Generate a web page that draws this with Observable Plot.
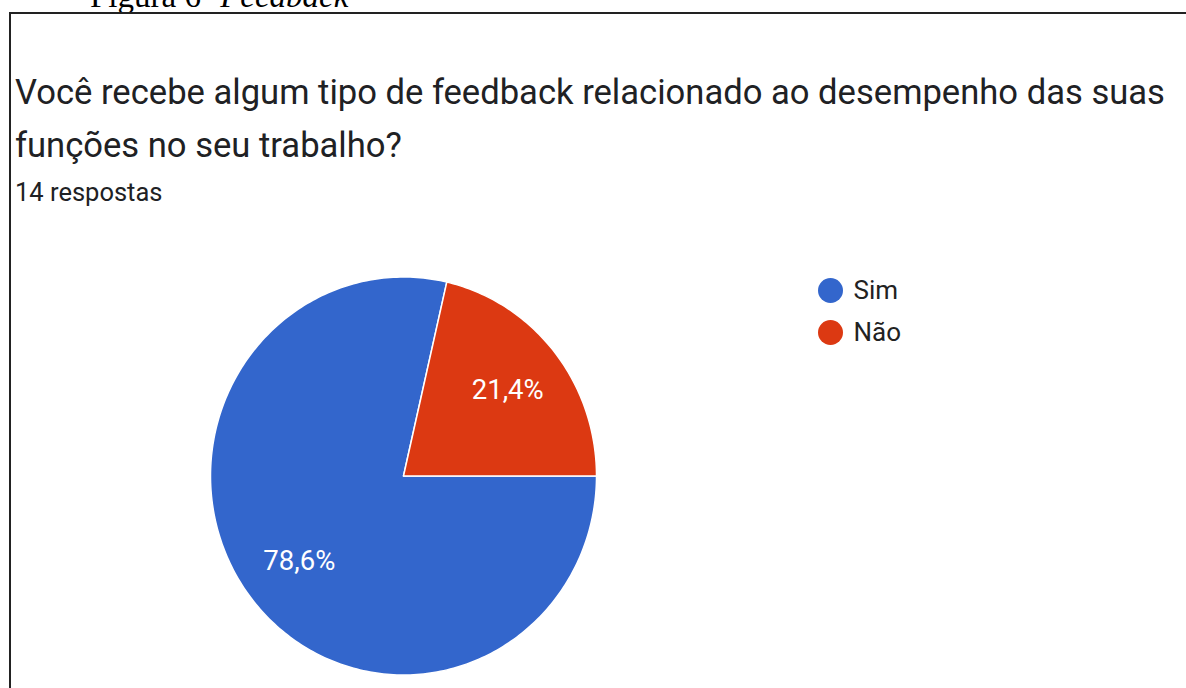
<!DOCTYPE html>
<html>
<head>
<meta charset="utf-8">
<script src="https://cdn.jsdelivr.net/npm/d3@7"></script>
<script src="https://cdn.jsdelivr.net/npm/@observablehq/plot@0.6"></script>
<style>
  html, body { margin: 0; padding: 0; background: #fff; width: 1186px; height: 688px; overflow: hidden; }
  #wrap { position: relative; width: 1186px; height: 688px; }
  #fig { position: absolute; left: 90px; top: -19px; font-family: "Liberation Serif", "Times New Roman", serif; font-size: 33px; color: #000; white-space: nowrap; line-height: 30px; }
  #box { position: absolute; left: 9px; top: 12px; width: 1300px; height: 800px; border-top: 2px solid #222; border-left: 2px solid #222; }
  #title { position: absolute; left: 15px; top: 66px; font-family: Roboto, sans-serif; font-size: 34.6px; line-height: 53px; color: #202124; white-space: nowrap; }
  #sub { position: absolute; left: 15px; top: 177px; font-family: Roboto, sans-serif; font-size: 25.5px; line-height: 30px; color: #202124; white-space: nowrap; }
  #chart { position: absolute; left: 0; top: 215px; }
</style>
</head>
<body>
<div id="wrap">
  <div id="fig">Figura 6- <i>Feedback</i></div>
  <div id="box"></div>
  <div id="title">Você recebe algum tipo de feedback relacionado ao desempenho das suas<br>funções no seu trabalho?</div>
  <div id="sub">14 respostas</div>
  <div id="chart"></div>
</div>
<script>
const categories = ["Sim", "Não"];
const values = [78.6, 21.4];
const labels = ["78,6%", "21,4%"];
const colors = ["#3366cc", "#dc3912"];

// layout (pixels)
const W = 1186, H = 473;
const cx = 403, cy = 260.5, RX = 193, RY = 199;
const startDeg = 90; // slices start at 3 o'clock, clockwise

const total = d3.sum(values);
const slices = [];
const labelPts = [];
let a0 = startDeg;
values.forEach((v, i) => {
  const span = v / total * 360;
  const a1 = a0 + span;
  slices.push({cat: categories[i], x: 0, y: 0});
  const n = Math.max(2, Math.ceil(span));
  for (let k = 0; k <= n; k++) {
    const t = (a0 + (a1 - a0) * k / n) * Math.PI / 180;
    slices.push({cat: categories[i], x: Math.sin(t), y: Math.cos(t)});
  }
  slices.push({cat: categories[i], x: 0, y: 0});
  const m = (a0 + a1) / 2 * Math.PI / 180;
  labelPts.push({label: labels[i], x: 0.69 * Math.sin(m), y: 0.69 * Math.cos(m)});
  a0 = a1;
});

const legendX = (830 - cx) / RX, legendTextX = (853 - cx) / RX;
const legend = categories.map((c, i) => ({cat: c, y: (cy - (75 + 42 * i)) / RY}));

const chart = Plot.plot({
  width: W, height: H,
  margin: 0,
  x: {domain: [-cx / RX, (W - cx) / RX], range: [0, W], axis: null},
  y: {domain: [-(H - cy) / RY, cy / RY], range: [H, 0], axis: null},
  color: {domain: categories, range: colors},
  style: {background: "transparent", overflow: "visible"},
  marks: [
    Plot.line(slices, {x: "x", y: "y", z: "cat", fill: "cat", stroke: "white", strokeWidth: 1.5, strokeLinejoin: "round", curve: "linear"}),
    Plot.text(labelPts, {x: "x", y: "y", text: "label", fill: "white", fontSize: 27.5, fontFamily: "Roboto, sans-serif"}),
    Plot.dot(legend, {x: legendX, y: "y", r: 12.5, fill: "cat", stroke: null}),
    Plot.text(legend, {x: legendTextX, y: "y", text: "cat", textAnchor: "start", fill: "#222", fontSize: 26, fontFamily: "Roboto, sans-serif"})
  ]
});
document.getElementById("chart").appendChild(chart);
</script>
</body>
</html>
